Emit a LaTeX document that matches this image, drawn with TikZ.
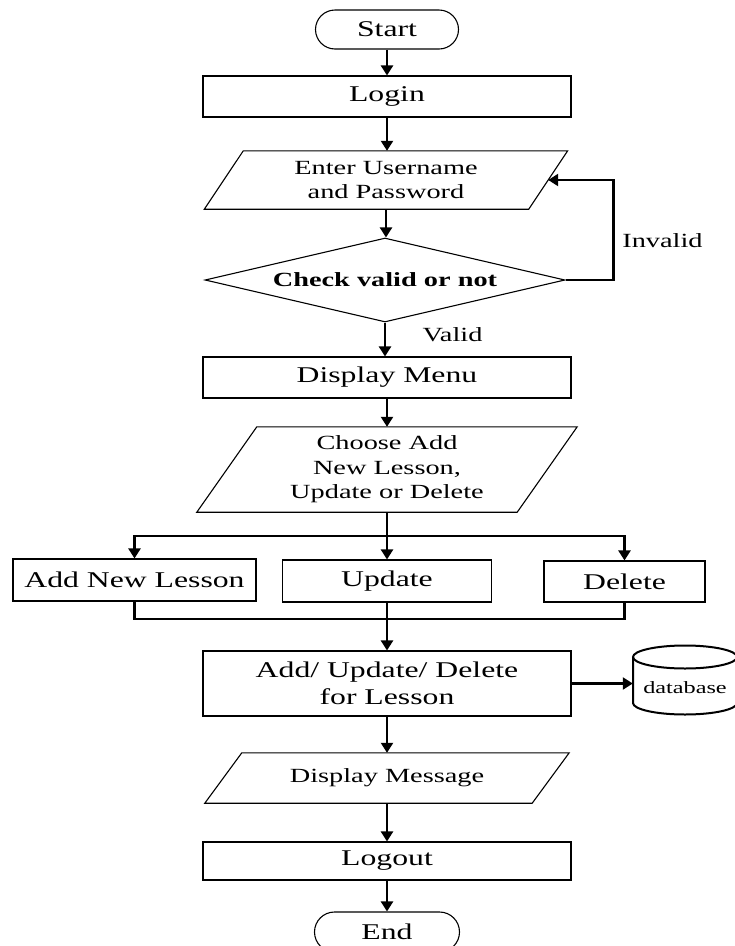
\documentclass[tikz,border=0pt]{standalone}
\usepackage{fontspec}
\setmainfont{Liberation Serif}[FakeStretch=1.41]
\usetikzlibrary{shapes.geometric,shapes.misc,arrows.meta,calc}

% parallelogram outline around a borderless node: #1 node name, #2 half slant
\newcommand\ioframe[2]{%
  \draw[frame] ([xshift=#2]#1.north west) -- ([xshift=#2]#1.north east)
    -- ([xshift=-#2]#1.south east) -- ([xshift=-#2]#1.south west) -- cycle;}

\begin{document}
\begin{tikzpicture}[x=1pt,y=-1pt,
  frame/.style={draw=black,line width=1.1pt},
  bigtext/.style={font=\fontsize{22.5pt}{27pt}\selectfont},
  smalltext/.style={font=\fontsize{20.1pt}{24.5pt}\selectfont},
  terminal/.style={rounded rectangle,frame,bigtext,minimum width=143pt,minimum height=39pt,inner sep=0pt},
  process/.style={rectangle,frame,bigtext,inner sep=0pt,align=center},
  io/.style={rectangle,smalltext,inner sep=0pt,align=center},
  decision/.style={diamond,frame,smalltext,inner sep=0pt,aspect=4.3,minimum width=360pt,minimum height=84pt},
  flow/.style={line width=2.3pt},
  arrow/.style={flow,-{Triangle[length=10pt,width=12pt]}},
  note/.style={smalltext,anchor=base,inner sep=0pt},
  cyl/.style={draw=black,line width=2pt},
]
\useasboundingbox (0,0) rectangle (735,946);

% main column
\node[terminal] (start) at (387,29.5) {Start};
\node[process,minimum width=368pt,minimum height=41pt] (login) at (387,96.5) {Login};
\node[io,minimum width=324pt,minimum height=58pt] (enter) at (386,180) {Enter Username\\and Password};
\ioframe{enter}{19.5}
\node[decision] (chk) at (385,280) {\bfseries Check valid or not};
\node[process,minimum width=368pt,minimum height=41pt] (menu) at (387,377.5) {Display Menu};
\node[io,minimum width=320pt,minimum height=85pt] (choose) at (387,469.5) {Choose Add\\New Lesson,\\Update or Delete};
\ioframe{choose}{30}

% three choices
\node[process,minimum width=243pt,minimum height=42pt] (add) at (134.5,580) {Add New Lesson};
\node[process,minimum width=209pt,minimum height=42pt] (upd) at (387,581) {Update};
\node[process,minimum width=161pt,minimum height=41pt] (del) at (624.5,581.5) {Delete};

\node[process,minimum width=368pt,minimum height=65pt] (aud) at (387,683.5) {Add/ Update/ Delete\\for Lesson};
\node[io,minimum width=104pt,minimum height=40pt,font=\fontsize{17.2pt}{20pt}\selectfont] (db) at (685,688) {database};
\draw[cyl] ($(db.center)+(0,-31)$) ellipse [x radius=52,y radius=11.5];
\draw[cyl] ($(db.center)+(-52,-31)$) -- ++(0,46)
  arc[start angle=180,end angle=0,x radius=52,y radius=11.5] -- ++(0,-46);

\node[io,minimum width=327pt,minimum height=50pt] (msg) at (387,778) {Display Message};
\ioframe{msg}{18.5}
\node[process,minimum width=368pt,minimum height=38pt] (logout) at (387,861) {Logout};
\node[terminal,minimum width=145pt,minimum height=40pt] (end) at (387,932) {End};

% labels
\node[note] (invalid) at (662.5,247) {Invalid};
\node[note] (valid) at (452.5,341) {Valid};

% connectors
\draw[arrow] (start.south) -- (start.south |- login.north);
\draw[arrow] (login.south) -- (login.south |- enter.north);
\draw[arrow] (enter.south) -- (enter.south |- chk.north);
\draw[arrow] (chk.east) -- ++(48,0) |- (enter.east);
\draw[arrow] (chk.south) -- (chk.south |- menu.north);
\draw[arrow] (menu.south) -- (menu.south |- choose.north);

\coordinate (split) at (387,536);
\coordinate (join) at (387,619);
\draw[flow] (choose.south) -- (split);
\draw[arrow] (split) -| (add.north);
\draw[arrow] (split) -- (upd.north);
\draw[arrow] (split) -| (del.north);
\draw[flow] (add.south) |- (join) -| (del.south);
\draw[flow] (upd.south) -- (join);
\draw[arrow] (join) -- (aud.north);

\draw[arrow] (aud.east) -- (aud.east -| db.west);
\draw[arrow] (aud.south) -- (msg.north);
\draw[arrow] (msg.south) -- (logout.north);
\draw[arrow] (logout.south) -- (end.north);
\end{tikzpicture}
\end{document}
